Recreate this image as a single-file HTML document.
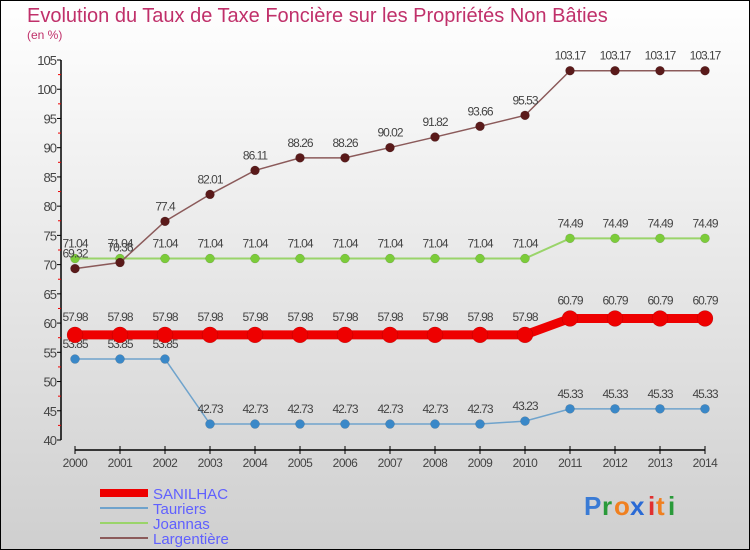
<!DOCTYPE html>
<html><head><meta charset="utf-8"><style>
body{margin:0;}
#c{width:750px;height:550px;position:relative;overflow:hidden;}
svg text{font-family:"Liberation Sans",sans-serif;}
</style></head><body>
<div id="c">
<svg id="s" width="750" height="550" xmlns="http://www.w3.org/2000/svg">
<defs><linearGradient id="bg" x1="0" y1="0" x2="0" y2="1"><stop offset="0" stop-color="#ffffff"/><stop offset="1" stop-color="#cfcfcf"/></linearGradient></defs>
<rect x="0.5" y="0.5" width="749" height="549" fill="url(#bg)" stroke="#000"/>
<text x="27" y="22" font-size="20" fill="#c0306a">Evolution du Taux de Taxe Foncière sur les Propriétés Non Bâties</text>
<text x="27" y="39" font-size="12" fill="#c0306a">(en %)</text>
<g id="axes"></g><g id="series"></g>
<g>
<rect x="100" y="489" width="48" height="8" fill="#e00"/>
<text x="153" y="499" font-size="15" fill="#6060ff">SANILHAC</text>
<line x1="100" y1="508" x2="148" y2="508" stroke="#6fa3cc" stroke-width="2"/>
<text x="153" y="514" font-size="15" fill="#6060ff">Tauriers</text>
<line x1="100" y1="523" x2="148" y2="523" stroke="#9ad46a" stroke-width="2"/>
<text x="153" y="529" font-size="15" fill="#6060ff">Joannas</text>
<line x1="100" y1="538" x2="148" y2="538" stroke="#8b5a5a" stroke-width="2"/>
<text x="153" y="544" font-size="15" fill="#6060ff">Largentière</text>
</g>
<g font-size="26" font-weight="bold">
<text x="584" y="515" fill="#3a7bd5">P</text><text x="602" y="515" fill="#2a9a3a">r</text><text x="614" y="515" fill="#f08020">o</text><text x="630" y="515" fill="#2a6ad5">x</text><text x="648" y="515" fill="#e03030">i</text><text x="656" y="515" fill="#f08020">t</text><text x="668" y="515" fill="#2a9a3a">i</text>
</g>
</svg>
</div>
<script>
const years=[2000,2001,2002,2003,2004,2005,2006,2007,2008,2009,2010,2011,2012,2013,2014];
const yTicks=[40,45,50,55,60,65,70,75,80,85,90,95,100,105];
const sanilhac=[57.98,57.98,57.98,57.98,57.98,57.98,57.98,57.98,57.98,57.98,57.98,60.79,60.79,60.79,60.79];
const tauriers=[53.85,53.85,53.85,42.73,42.73,42.73,42.73,42.73,42.73,42.73,43.23,45.33,45.33,45.33,45.33];
const joannas=[71.04,71.04,71.04,71.04,71.04,71.04,71.04,71.04,71.04,71.04,71.04,74.49,74.49,74.49,74.49];
const largentiere=[69.32,70.36,77.4,82.01,86.11,88.26,88.26,90.02,91.82,93.66,95.53,103.17,103.17,103.17,103.17];
const NS="http://www.w3.org/2000/svg";
function X(i){return 75+i*45;}
function Y(v){return 440-(v-40)*380/65;}
function mk(tag,attrs,parent){const e=document.createElementNS(NS,tag);for(const k in attrs)e.setAttribute(k,attrs[k]);parent.appendChild(e);return e;}
const ax=document.getElementById('axes');
const yAxis=mk('line',{x1:61,y1:Y(105),x2:61,y2:Y(40),stroke:'#000','stroke-width':1.5},ax);


yTicks.forEach((t,i)=>{
 mk('line',{x1:57,y1:Y(t),x2:61,y2:Y(t),stroke:'#000'},ax);
 if(i<yTicks.length-1) mk('line',{x1:58,y1:Y(t+2.5),x2:61,y2:Y(t+2.5),stroke:'#e00'},ax);
 const tx=mk('text',{x:56,y:Y(t)+5,'font-size':13,fill:'#444','text-anchor':'end','letter-spacing':'-1'},ax);
 tx.textContent=t;
 
 
});
const xAxis=mk('line',{x1:X(0),y1:450,x2:X(14),y2:450,stroke:'#000','stroke-width':1.5},ax);


years.forEach((yr,i)=>{
 mk('line',{x1:X(i),y1:446,x2:X(i),y2:454,stroke:'#000'},ax);
 const tx=mk('text',{x:X(i),y:467,'font-size':12,fill:'#444','text-anchor':'middle','letter-spacing':'-0.5'},ax);
 tx.textContent=yr;
 
 
});
const sg=document.getElementById('series');
function draw(data,name,color,w,r,fill,labelOff){
 const g=mk('g',{},sg);
 
 
 mk('polyline',{points:data.map((v,i)=>X(i)+','+Y(v)).join(' '),fill:'none',stroke:color,'stroke-width':w},g);
 data.forEach((v,i)=>{
  const c=mk('circle',{cx:X(i),cy:Y(v),r:r,fill:fill,stroke:'rgba(0,0,0,0.2)','stroke-width':0.5},g);
  
  
  const t=mk('text',{x:X(i),y:Y(v)+labelOff,'font-size':12,fill:'#444','text-anchor':'middle','letter-spacing':'-1'},g);
  t.textContent=v;
  
  
 });
}
draw(tauriers,'tauriers','#6fa3cc',1.5,4.5,'#3a88c8',-11);
draw(joannas,'joannas','#9ad46a',2,4.5,'#7ccc3a',-11);
draw(largentiere,'largentiere','#8b5a5a',1.5,4.5,'#5a1a1a',-11);
draw(sanilhac,'sanilhac','#e00',9,8,'#e00',-14);
</script>
</body></html>
